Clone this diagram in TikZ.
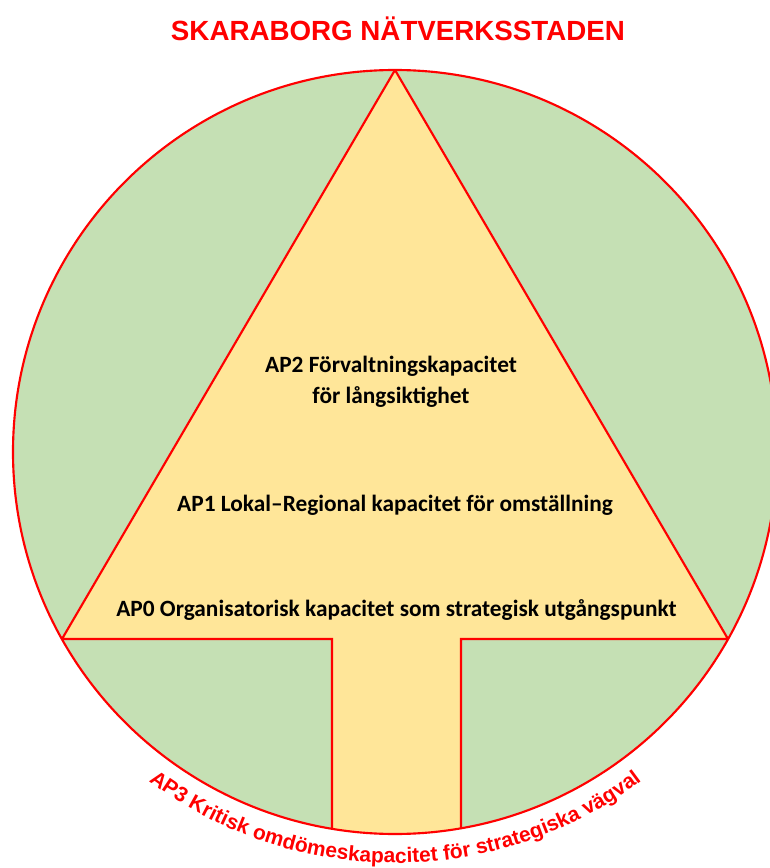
\documentclass[tikz,border=0pt]{standalone}
\usepackage{fontspec}
\usepackage{xcolor}
\usepackage{tikz}
\usetikzlibrary{decorations.text}
\setmainfont{Carlito}
\newfontfamily\arialfont{Liberation Sans}
\definecolor{ringgreen}{HTML}{C5E0B4}
\definecolor{coreyellow}{HTML}{FFE699}
\definecolor{linered}{HTML}{FF0000}

\begin{document}
\begin{tikzpicture}[x=0.75pt, y=0.75pt,
    edge/.style={draw=linered, line width=1.6pt, line join=miter},
    aplabel/.style={font=\fontsize{17.5}{23.3}\selectfont\bfseries, align=center, inner sep=0pt}]
    \useasboundingbox (-395,-416) rectangle (374,452);

    % Title
    \node[font=\arialfont\bfseries\fontsize{20.8}{25}\selectfont, text=linered, anchor=base] (title) at (3,411) {SKARABORG NÄTVERKSSTADEN};

    % Green circle
    \fill[ringgreen] (0,0) circle (382);

    % Yellow triangle with stem
    \begin{scope}
    \clip (0,0) circle (382);
    \draw[edge, fill=coreyellow] (0,382) -- (-333,-187) -- (-63,-187) -- (-63,-420) -- (66,-420) -- (66,-187) -- (333,-187) -- cycle;
    \end{scope}
    \draw[edge] (0,0) circle (382);

    % Levels
    \node[aplabel] (ap2) at (-4,70) {AP2 Förvaltningskapacitet\\för långsiktighet};
    \node[aplabel, anchor=base] (ap1) at (0,-59) {AP1 Lokal–Regional kapacitet för omställning};
    \node[aplabel, anchor=base] (ap0) at (1.5,-164) {AP0 Organisatorisk kapacitet som strategisk utgångspunkt};

    % Text round the bottom
    \path[decorate, decoration={text along path, text align=center,
        text={|\arialfont\bfseries\fontsize{15.7}{19}\selectfont\color{linered}|AP3 Kritisk omdömeskapacitet för strategiska vägval}}]
        (230:411) arc (230:310:411);
\end{tikzpicture}
\end{document}
